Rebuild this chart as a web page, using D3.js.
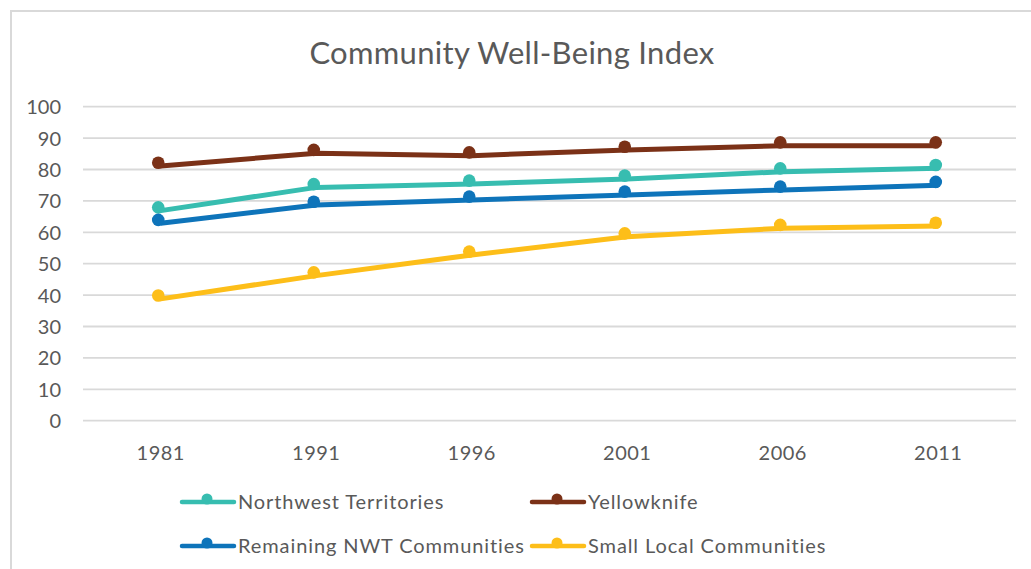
<!DOCTYPE html>
<html><head><meta charset="utf-8">
<script src="https://cdn.jsdelivr.net/npm/d3@7"></script>
<style>body{margin:0;background:#fff}svg{display:block}text{font-family:Lato,"Open Sans",sans-serif;fill:#595959}</style>
</head><body><svg id="c" width="1031" height="569"></svg>
<script>
const years = ["1981","1991","1996","2001","2006","2011"];
const seriesNames = ["Northwest Territories","Yellowknife","Remaining NWT Communities","Small Local Communities"];
const nwt = [66.9, 74.3, 75.4, 77.0, 79.3, 80.4];
const yellowknife = [81.1, 85.2, 84.4, 86.2, 87.6, 87.6];
const remaining = [62.9, 68.7, 70.3, 71.9, 73.5, 75.0];
const smallLocal = [38.8, 46.2, 52.8, 58.6, 61.3, 62.0];
const yTicks = [0,10,20,30,40,50,60,70,80,90,100];
const colors = ["#37BDB0","#7B3117","#0E74BA","#FDBE19"];
const values = [nwt, yellowknife, remaining, smallLocal];

const svg = d3.select("#c");
svg.append("rect").attr("x",11).attr("y",11).attr("width",1040).attr("height",580)
  .attr("fill","#fff").attr("stroke","#d9d9d9").attr("stroke-width",2);

const x = d3.scaleBand().domain(years).range([83,1016]);
const y = d3.scaleLinear().domain([0,100]).range([420.7,106.7]);

// grid
svg.append("g").selectAll("line").data(yTicks).join("line")
  .attr("x1",83).attr("x2",1016).attr("y1",d=>y(d)).attr("y2",d=>y(d))
  .attr("stroke","#d9d9d9").attr("stroke-width",1.8);

// y axis
const ya = svg.append("g").attr("transform","translate(61,0)")
  .call(d3.axisLeft(y).tickValues(yTicks).tickSize(0).tickPadding(0));
ya.select(".domain").remove();
ya.selectAll("text").attr("font-size",20).attr("fill","#595959").attr("dy","0.35em").style("font-family","Lato");

// x axis
const xa = svg.append("g").attr("transform","translate(0,445)")
  .call(d3.axisBottom(x).tickSize(0).tickPadding(0));
xa.select(".domain").remove();
xa.selectAll("text").attr("font-size",20).attr("fill","#595959").attr("dy","0.75em").style("font-family","Lato").attr("letter-spacing","0.5px");

// title
svg.append("text").attr("x",512).attr("y",64).attr("text-anchor","middle")
  .attr("font-size",31).attr("letter-spacing","0.3px").text("Community Well-Being Index");

// lines
const line = d3.line().x((d,i)=>x(years[i])+x.bandwidth()/2).y(d=>y(d));
values.forEach((vals,k)=>{
  svg.append("path").datum(vals).attr("d",line).attr("fill","none")
    .attr("stroke",colors[k]).attr("stroke-width",5).attr("stroke-linejoin","round");
});
values.forEach((vals,k)=>{
  svg.append("g").attr("transform","translate(-2.5,-3.3)").selectAll("circle").data(vals).join("circle")
    .attr("cx",(d,i)=>x(years[i])+x.bandwidth()/2).attr("cy",d=>y(d)).attr("r",6.3)
    .attr("fill",colors[k]);
});

// legend
const legPos = [[182,502],[532,502],[182,546],[532,546]];
seriesNames.forEach((n,k)=>{
  const [lx,ly] = legPos[k];
  const g = svg.append("g").attr("transform",`translate(${lx},${ly})`);
  g.append("line").attr("x1",0).attr("x2",52).attr("y1",0).attr("y2",0)
    .attr("stroke",colors[k]).attr("stroke-width",4.5).attr("stroke-linecap","round");
  g.append("circle").attr("cx",25).attr("cy",-3).attr("r",5.5).attr("fill",colors[k]);
  g.append("text").attr("x",56).attr("y",0).attr("dy","0.35em").attr("font-size",20)
    .attr("letter-spacing","0.9px").text(n);
});
</script></body></html>
